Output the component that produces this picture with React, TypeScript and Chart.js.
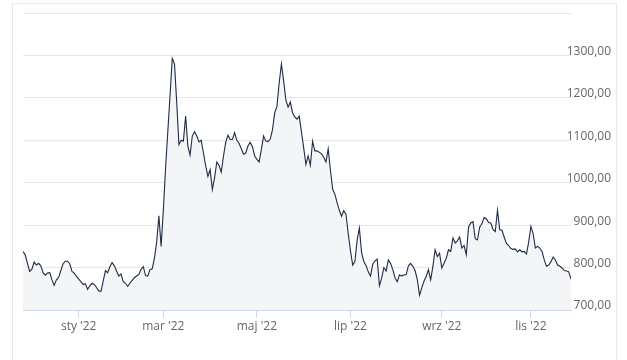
import React, { useEffect, useRef } from "react";
import { Chart, registerables } from "chart.js";

Chart.register(...registerables);

// Daily closing values (trading days)
const prices: number[] = [
  // late Nov – Dec 2021
  838, 830, 810, 791, 796, 813, 806, 810, 804, 788, 782, 787, 788, 771, 758, 771, 777, 793, 809, 815, 815, 809, 791, 787, 779, 773,
  // Jan – Feb 2022
  767, 760, 762, 749, 757, 763, 760, 753, 745, 744, 768, 793, 788, 802, 812, 804, 792, 780, 785, 767,
  763, 756, 763, 770, 776, 780, 784, 796, 802, 781, 780, 795, 797, 822, 860, 922, 850, 935,
  // Mar – Apr 2022
  1035, 1120, 1205, 1293, 1280, 1190, 1090, 1100, 1098, 1157, 1087, 1065, 1110, 1120, 1110, 1096, 1100, 1070, 1040, 1015,
  1031, 984, 1012, 1049, 1041, 1025, 1063, 1095, 1112, 1102, 1102, 1118, 1100, 1093, 1080, 1067, 1070, 1087, 1095, 1085,
  1063, 1055,
  // May – Jun 2022
  1049, 1078, 1110, 1098, 1097, 1103, 1125, 1165, 1180, 1235, 1280, 1240, 1195, 1178, 1190, 1165, 1155, 1150, 1157, 1120,
  1082, 1043, 1063, 1041, 1098, 1075, 1075, 1072, 1068, 1060, 1049, 1080, 1030, 985, 973, 953, 935, 921, 934, 925,
  880, 840,
  // Jul – Aug 2022
  806, 815, 865, 893, 835, 814, 805, 790, 780, 808, 816, 820, 757, 775, 800, 792, 818, 810, 795, 776,
  767, 783, 780, 783, 783, 804, 810, 803, 793, 772, 735, 752, 768, 779, 795, 771, 803, 842, 826, 834,
  799,
  // Sep – Oct 2022
  810, 822, 842, 838, 870, 858, 863, 872, 846, 852, 830, 895, 905, 908, 868, 865, 895, 903, 918, 915,
  906, 905, 890, 885, 935, 889, 888, 872, 857, 852, 845, 843, 844, 837, 842, 837, 838, 832, 860, 897,
  // Nov 2022
  880, 846, 850, 846, 838, 818, 803, 806, 814, 825, 818, 806, 803, 799, 793, 792, 790, 773,
];

// Position (trading-day index) of the first session of each labelled month
const monthTickIndex: number[] = [25, 63, 105, 147, 188, 228];
const monthTickLabel: string[] = ["sty '22", "mar '22", "maj '22", "lip '22", "wrz '22", "lis '22"];

const yMin = 700;
const yMax = 1400;
const yStep = 100;

const FONT = "'Open Sans', 'DejaVu Sans', sans-serif";

export default function App() {
  const ref = useRef<HTMLCanvasElement>(null);

  useEffect(() => {
    const canvas = ref.current;
    if (!canvas) return;
    const chart = new Chart(canvas, {
      type: "line",
      data: {
        datasets: [
          {
            data: prices.map((v, i) => ({ x: i, y: v })),
            borderColor: "#1f2b47",
            borderWidth: 1.1,
            backgroundColor: "#f4f5f7",
            fill: "start",
            pointRadius: 0,
            pointHoverRadius: 0,
            tension: 0,
          },
        ],
      },
      options: {
        responsive: false,
        animation: false,
        events: [],
        layout: { padding: { left: 23, top: 13, right: 0, bottom: 0 } },
        plugins: {
          legend: { display: false },
          tooltip: { enabled: false },
        },
        scales: {
          x: {
            type: "linear",
            min: 0,
            max: prices.length - 1,
            afterBuildTicks: (s: any) => {
              s.ticks = monthTickIndex.map((v) => ({ value: v }));
            },
            afterFit: (s: any) => {
              s.height = 50;
            },
            grid: {
              drawOnChartArea: false,
              drawTicks: true,
              tickLength: 8,
              color: "#ccd6eb",
            },
            border: { display: true, color: "#ccd6eb" },
            ticks: {
              autoSkip: false,
              maxRotation: 0,
              padding: 1,
              color: "#666666",
              font: { family: FONT, size: 12 },
              callback: (v: any) => {
                const k = monthTickIndex.indexOf(Number(v));
                return k >= 0 ? monthTickLabel[k] : "";
              },
            },
          },
          y: {
            position: "right",
            min: yMin,
            max: yMax,
            afterFit: (s: any) => {
              s.width = 56;
              s.paddingTop = 0;
              s.paddingBottom = 0;
            },
            grid: { drawTicks: false, color: "#e6e6e6" },
            border: { display: false },
            ticks: {
              stepSize: yStep,
              mirror: true,
              padding: 40,
              crossAlign: "near",
              labelOffset: -4,
              color: "#666666",
              font: { family: FONT, size: 12 },
              callback: (v: any) => (Number(v) >= yMax ? "" : Number(v).toFixed(2).replace(".", ",")),
            },
          },
        },
      },
    } as any);
    return () => chart.destroy();
  }, []);

  return (
    <div style={{ position: "absolute", left: 0, top: 0, width: 627, height: 360, overflow: "hidden", background: "#ffffff" }}>
      <div
        style={{
          position: "absolute",
          left: 12,
          top: 3,
          width: 605,
          height: 420,
          border: "1px solid #e8e8e8",
          boxSizing: "border-box",
        }}
      />
      <canvas ref={ref} width={627} height={360} style={{ position: "absolute", left: 0, top: 0 }} />
    </div>
  );
}
